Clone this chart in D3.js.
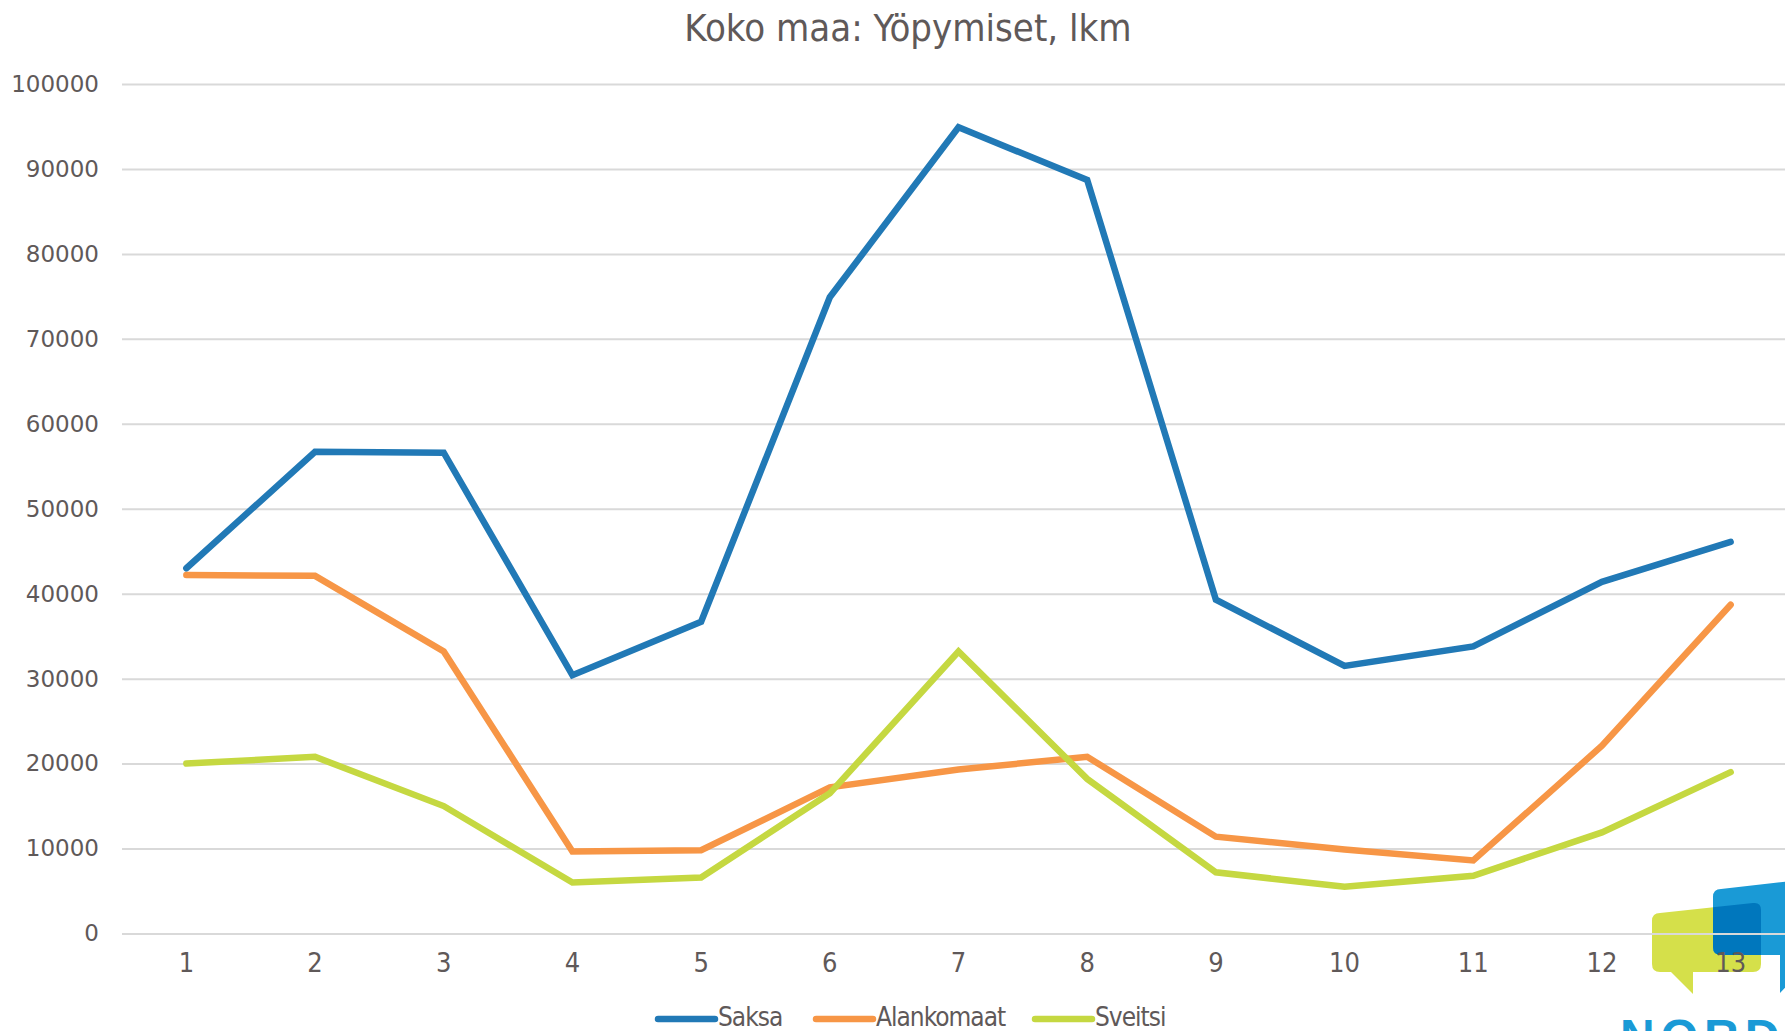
<!DOCTYPE html>
<html lang="fi">
<meta charset="utf-8">

<!-- Load d3.js -->
<script src="https://d3js.org/d3.v7.min.js"></script>

<style>
  body { margin: 0; background: #fff; }
</style>

<!-- Create a div where the graph will take place -->
<div id="my_dataviz"></div>

<script>

    // data
    var months = ["1","2","3","4","5","6","7","8","9","10","11","12","13"];
    var saksa = [43000, 56700, 56600, 30400, 36700, 74900, 94900, 88700, 39300, 31500, 33800, 41400, 46100];
    var alankomaat = [42200, 42100, 33200, 9650, 9800, 17200, 19300, 20800, 11400, 9900, 8600, 22100, 38700];
    var sveitsi = [20000, 20800, 15000, 6000, 6600, 16500, 33200, 18200, 7200, 5500, 6800, 11900, 19000];
    var seriesNames = ["Saksa", "Alankomaat", "Sveitsi"];
    var seriesColors = ["#2179B6", "#F79646", "#C5D841"];
    var yTicks = [0, 10000, 20000, 30000, 40000, 50000, 60000, 70000, 80000, 90000, 100000];

    var series = [saksa, alankomaat, sveitsi];

    // set the dimensions
    var W = 1785, H = 1031;
    var plotLeft = 122, plotRight = 1795, plotTop = 84, plotBottom = 933.5;
    var textColor = "#5f5959";

    var svg = d3.select("#my_dataviz")
      .append("svg")
        .attr("width", W)
        .attr("height", H)
        .style("display", "block");

    // logo in the bottom right corner (drawn under the grid)
    var logo = svg.append("g").attr("class", "logo");
    var yellowPath = "M1660,913 L1753,903 Q1761,902 1761,910 L1761,964 Q1761,972 1753,972 L1693,972 L1693,994 L1671,972 L1660,972 Q1652,972 1652,964 L1652,921 Q1652,913 1660,913 Z";
    var bluePath = "M1721,889 L1800,880 L1800,972 L1780,993 L1780,955 L1721,955 Q1713,955 1713,947 L1713,897 Q1713,889 1721,889 Z";
    logo.append("clipPath").attr("id", "blueClip")
      .append("path").attr("d", bluePath);
    logo.append("path").attr("d", yellowPath).style("fill", "#D5E04A");
    logo.append("path").attr("d", bluePath).style("fill", "#1A9AD6");
    logo.append("path").attr("d", yellowPath).attr("clip-path", "url(#blueClip)").style("fill", "#0077BD");
    logo.append("text")
      .attr("x", 1620)
      .attr("y", 1053)
      .style("font-family", "'Liberation Sans', Arial, sans-serif")
      .style("font-weight", "bold")
      .style("font-size", "48px")
      .style("letter-spacing", "6px")
      .style("fill", "#1A9AD6")
      .text("NORDIC");

    // Build X scale and axis
    var x = d3.scaleBand()
      .domain(months)
      .range([plotLeft, plotRight])
      .padding(0);

    // Build Y scale and axis (with grid lines)
    var y = d3.scaleLinear()
      .domain([0, 100000])
      .range([plotBottom, plotTop]);

    var yAxis = svg.append("g")
      .attr("transform", "translate(" + plotLeft + ",0)")
      .call(d3.axisLeft(y).tickValues(yTicks).tickSize(-(W - plotLeft)).tickPadding(23).tickFormat(d3.format("d")));
    yAxis.select(".domain").remove();
    yAxis.selectAll(".tick line")
      .style("stroke", "#d9d9d9")
      .style("stroke-width", 2);
    yAxis.selectAll(".tick text")
      .style("font-family", "'DejaVu Sans', sans-serif")
      .style("font-size", "23px")
      .style("fill", textColor);

    var xAxis = svg.append("g")
      .attr("transform", "translate(0," + plotBottom + ")")
      .call(d3.axisBottom(x).tickSize(0).tickPadding(19));
    xAxis.select(".domain").remove();
    xAxis.selectAll(".tick text")
      .style("font-family", "'Liberation Sans Narrow', 'DejaVu Sans Condensed', sans-serif")
      .style("font-size", "27px")
      .style("fill", textColor);

    // draw the lines
    var line = d3.line()
      .x(function(d, i) { return x(months[i]) + x.bandwidth() / 2; })
      .y(function(d) { return y(d); });

    svg.append("g").selectAll("path")
      .data(series)
      .enter()
      .append("path")
        .attr("d", line)
        .style("fill", "none")
        .style("stroke", function(d, i) { return seriesColors[i]; })
        .style("stroke-width", 6.5)
        .style("stroke-linecap", "round")
        .style("stroke-linejoin", "miter");

    // Add title to graph
    svg.append("text")
      .attr("x", 908)
      .attr("y", 41)
      .attr("text-anchor", "middle")
      .style("font-family", "'Liberation Sans Narrow', 'DejaVu Sans Condensed', sans-serif")
      .style("font-size", "38px")
      .style("fill", textColor)
      .text("Koko maa: Yöpymiset, lkm");

    // legend
    var legendX = [658, 816, 1035];
    var legend = svg.append("g").selectAll("g")
      .data(seriesNames)
      .enter()
      .append("g")
        .attr("transform", function(d, i) { return "translate(" + legendX[i] + ",1019)"; });
    legend.append("line")
      .attr("x1", 0).attr("x2", 57)
      .style("stroke", function(d, i) { return seriesColors[i]; })
      .style("stroke-width", 6.5)
      .style("stroke-linecap", "round");
    legend.append("text")
      .attr("x", 60)
      .attr("y", 7)
      .style("font-family", "'Liberation Sans Narrow', 'DejaVu Sans Condensed', sans-serif")
      .style("font-size", "26px")
      .style("letter-spacing", "-1px")
      .style("fill", textColor)
      .text(function(d) { return d; });

</script>
</html>
